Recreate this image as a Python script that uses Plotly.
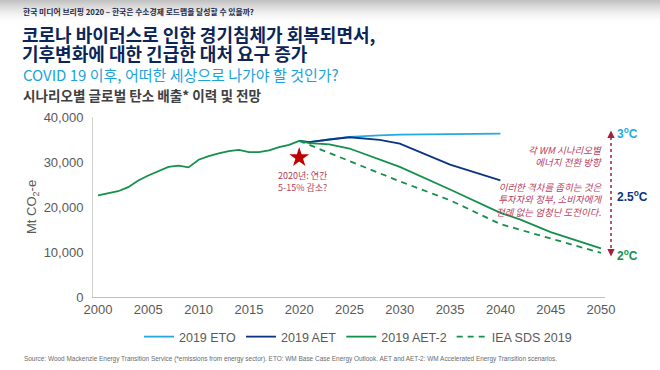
import plotly.graph_objects as go

# ---------------- data ----------------
hist_years = list(range(2000, 2021))
hist_values = [22600, 23000, 23500, 24400, 25900, 27000, 27900, 28900, 29200, 28800,
               30500, 31300, 31900, 32400, 32700, 32200, 32200, 32600, 33300, 33800, 34700]

eto_years = [2020, 2021, 2023, 2025, 2028, 2030, 2035, 2040]
eto_values = [34700, 34400, 35000, 35600, 35900, 36100, 36200, 36300]

aet_years = [2020, 2021, 2023, 2025, 2028, 2030, 2035, 2040]
aet_values = [34700, 34400, 35000, 35500, 34900, 34100, 29400, 25900]

aet2_years = [2020, 2021, 2023, 2025, 2030, 2035, 2040, 2042, 2045, 2048, 2050]
aet2_values = [34700, 34200, 33900, 33000, 28900, 23900, 18700, 17200, 14400, 12300, 10800]

sds_years = [2020, 2021, 2025, 2030, 2035, 2040, 2045, 2050]
sds_values = [34700, 33800, 30200, 25700, 21500, 16200, 13000, 9800]

star_year = [2020]
star_value = [31000]

x_ticks = [2000, 2005, 2010, 2015, 2020, 2025, 2030, 2035, 2040, 2045, 2050]
y_ticks = [0, 10000, 20000, 30000, 40000]
y_tick_labels = ["0", "10,000", "20,000", "30,000", "40,000"]

series_names = ["2019 ETO", "2019 AET", "2019 AET-2", "IEA SDS 2019"]

# ---------------- layout helpers ----------------
W, H = 660, 370
L, R, T, B = 93, 605, 117, 297


def px(X):
    return (X - L) / (R - L)


def py(Y):
    return (B - Y) / (B - T)


KR = "Noto Sans CJK KR"
LAT = "Liberation Sans, Arial, sans-serif"
GREY = "#595959"
C_ETO = "#25a9e1"
C_AET = "#0c3483"
C_AET2 = "#13904a"
C_ANN = "#b8405e"
C_ARROW = "#a4203d"

fig = go.Figure()

# history (part of AET-2 styling)
fig.add_trace(go.Scatter(x=hist_years, y=hist_values, mode="lines",
                         line=dict(color=C_AET2, width=1.8), showlegend=False))
fig.add_trace(go.Scatter(x=eto_years, y=eto_values, mode="lines", name=series_names[0],
                         line=dict(color=C_ETO, width=1.8)))
fig.add_trace(go.Scatter(x=aet_years, y=aet_values, mode="lines", name=series_names[1],
                         line=dict(color=C_AET, width=1.8)))
fig.add_trace(go.Scatter(x=aet2_years, y=aet2_values, mode="lines", name=series_names[2],
                         line=dict(color=C_AET2, width=1.8)))
fig.add_trace(go.Scatter(x=sds_years, y=sds_values, mode="lines", name=series_names[3],
                         line=dict(color=C_AET2, width=1.8, dash="6px,5px")))
fig.add_trace(go.Scatter(x=star_year, y=star_value, mode="markers", showlegend=False,
                         marker=dict(symbol="star", size=15, color="#c00000",
                                     line=dict(width=0))))

shapes = []
# header gradient
steps = 22
for i in range(steps):
    f = 1 - i / steps
    g = int(255 - 62 * f ** 1.6)
    shapes.append(dict(type="rect", xref="paper", yref="paper",
                       x0=px(0), x1=px(W), y0=py(i + 1), y1=py(i),
                       fillcolor=f"rgb({g},{g},{g})", line=dict(width=0), layer="below"))
# dotted arrow
shapes.append(dict(type="line", xref="paper", yref="paper",
                   x0=px(611), x1=px(611), y0=py(137), y1=py(250),
                   line=dict(color=C_ARROW, width=1.5, dash="dot")))
shapes.append(dict(type="path", xref="paper", yref="paper",
                   path=f"M {px(611)},{py(130.5)} L {px(607.3)},{py(138)} L {px(614.7)},{py(138)} Z",
                   fillcolor=C_ARROW, line=dict(width=0)))
shapes.append(dict(type="path", xref="paper", yref="paper",
                   path=f"M {px(611)},{py(256.5)} L {px(607.3)},{py(249)} L {px(614.7)},{py(249)} Z",
                   fillcolor=C_ARROW, line=dict(width=0)))

ann = []


def text(X, Y, t, size, color, family=KR, xanchor="left", yanchor="middle", align="left", angle=0):
    ann.append(dict(x=px(X), y=py(Y), xref="paper", yref="paper", text=t, showarrow=False,
                    xanchor=xanchor, yanchor=yanchor, align=align, textangle=angle,
                    font=dict(size=size, color=color, family=family)))


text(21, 11, "<b>한국 미디어 브리핑 2020 – 한국은 수소경제 로드맵을 달성할 수 있을까?</b>", 7.8, "#1b2a4a")
text(20, 34, "<b>코로나 바이러스로 인한 경기침체가 회복되면서,</b>", 18, "#0b2559")
text(20, 53, "<b>기후변화에 대한 긴급한 대처 요구 증가</b>", 18, "#0b2559")
text(21, 75, "COVID 19 이후, 어떠한 세상으로 나가야 할 것인가?", 15, "#1aa3dd")
text(21, 95, "<b>시나리오별 글로벌 탄소 배출* 이력 및 전망</b>", 13.6, "#404040")
text(22, 359, "Source: Wood Mackenzie Energy Transition Service (*emissions from energy sector). "
     "ETO: WM Base Case Energy Outlook. AET and AET-2: WM Accelerated Energy Transition scenarios.",
     6.45, "#6a6a6a", family=LAT)
text(32, 207, "Mt CO<sub>2</sub>-e", 13, GREY, family=LAT, xanchor="center", angle=-90)

text(302, 181, "2020년: 연간<br>5-15% 감소?", 9, C_ANN, xanchor="center", align="center")
text(604, 156, "<i>각 WM 시나리오별<br>에너지 전환 방향</i>", 9.5, C_ANN, xanchor="right", align="right")
text(604, 199, "<i>이러한 격차를 좁히는 것은<br>투자자와 정부, 소비자에게<br>전례 없는 엄청난 도전이다.</i>",
     9.5, C_ANN, xanchor="right", align="right")

text(615, 133, "<b>3<sup>o</sup>C</b>", 12, C_ETO, family=LAT)
text(615, 196, "<b>2.5<sup>o</sup>C</b>", 12, C_AET, family=LAT)
text(615, 255, "<b>2<sup>o</sup>C</b>", 12, C_AET2, family=LAT)

fig.update_layout(
    width=W, height=H,
    margin=dict(l=L, r=W - R, t=T, b=H - B, pad=0),
    paper_bgcolor="white", plot_bgcolor="white",
    shapes=shapes, annotations=ann,
    hovermode=False,
    legend=dict(orientation="h", x=px(358), xanchor="center", y=py(337), yanchor="middle",
                font=dict(size=12.5, color=GREY, family=LAT), itemwidth=30,
                bgcolor="rgba(0,0,0,0)"),
    xaxis=dict(range=[1999.5, 2050.4], tickvals=x_ticks, showgrid=False, zeroline=False,
               showline=True, linecolor="#bfbfbf", linewidth=1, ticks="",
               tickfont=dict(size=13, color=GREY, family=LAT)),
    yaxis=dict(range=[0, 40000], tickvals=y_ticks, ticktext=y_tick_labels, showgrid=False,
               zeroline=False, showline=True, linecolor="#d0d0d0", linewidth=1, ticks="",
               ticklabelstandoff=6,
               tickfont=dict(size=13, color=GREY, family=LAT)),
)
for tr in fig.data:
    tr.cliponaxis = False

fig.write_html("out.html", config={"displayModeBar": False},
               post_script="document.body.style.margin='0';document.body.style.padding='0';")
